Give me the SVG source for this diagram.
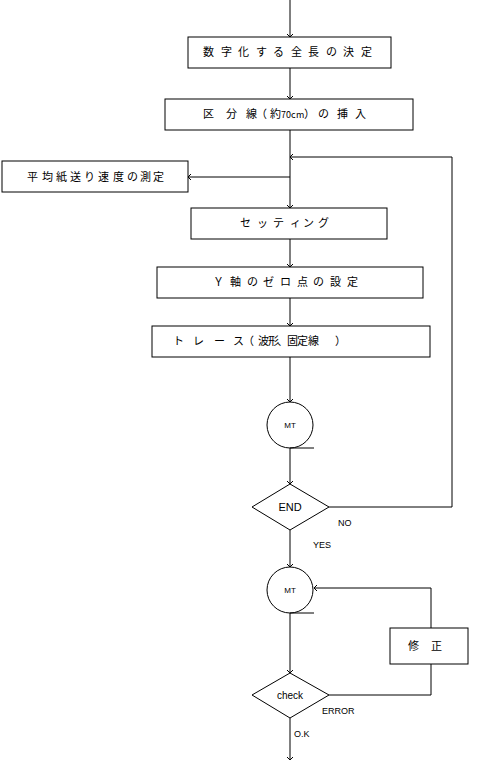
<svg xmlns="http://www.w3.org/2000/svg" width="488" height="765" viewBox="0 0 488 765">
<style>
.box{fill:#fff;stroke:#000;stroke-width:1}
.ln{fill:none;stroke:#000;stroke-width:1}
.jp{font-family:"Noto Sans CJK JP","Noto Sans",sans-serif;font-size:11px;fill:#000}
.en{font-family:"Liberation Sans",Arial,sans-serif;fill:#000}
</style>
<defs>
<marker id="ar" markerUnits="userSpaceOnUse" markerWidth="8" markerHeight="8" refX="4" refY="4" orient="auto" viewBox="0 0 8 8">
<path d="M1,1 L4,4 L1,7" fill="none" stroke="#000" stroke-width="1"/>
</marker>
</defs>
<rect width="488" height="765" fill="#fff"/>
<g id="connectors">
<path class="ln" d="M290,0 V37" marker-end="url(#ar)"/>
<path class="ln" d="M290,68 V99" marker-end="url(#ar)"/>
<path class="ln" d="M290,130 V208" marker-end="url(#ar)"/>
<path class="ln" d="M290,177 H188" marker-end="url(#ar)"/>
<path class="ln" d="M329,507 H452 V157 H290" marker-end="url(#ar)"/>
<path class="ln" d="M290,239 V267" marker-end="url(#ar)"/>
<path class="ln" d="M290,298 V326" marker-end="url(#ar)"/>
<path class="ln" d="M290,357 V402" marker-end="url(#ar)"/>
<path class="ln" d="M290,448 V484" marker-end="url(#ar)"/>
<path class="ln" d="M290,530 V567" marker-end="url(#ar)"/>
<path class="ln" d="M290,613 V673" marker-end="url(#ar)"/>
<path class="ln" d="M329,695 H431 V664"/>
<path class="ln" d="M431,628 V588 H314" marker-end="url(#ar)"/>
<path class="ln" d="M290,718 V760" marker-end="url(#ar)"/>
<text class="en" x="338" y="526" font-size="9">NO</text>
<text class="en" x="313" y="548" font-size="9">YES</text>
<text class="en" x="322" y="714" font-size="9">ERROR</text>
<text class="en" x="294" y="737" font-size="9">O.K</text>
</g>
<g id="n1">
<rect class="box" x="188" y="37" width="203" height="31"/>
<text class="jp" x="203 221 238 256 273 291 308 326 343 361" y="56">数字化する全長の決定</text>
</g>
<g id="n2">
<rect class="box" x="165" y="99" width="248" height="31"/>
<text class="jp" y="118"><tspan x="203 226 246 256 270">区分線（約</tspan><tspan font-size="9" x="281 286 291 296">70cm</tspan><tspan x="304 318 337 355">）の挿入</tspan></text>
</g>
<g id="n3">
<rect class="box" x="2" y="161" width="186" height="31"/>
<text class="jp" x="27 42 56 70 84 98 113 127 140 153" y="181">平均紙送り速度の測定</text>
</g>
<g id="n4">
<rect class="box" x="191" y="208" width="196" height="31"/>
<text class="jp" x="240 257 273 290 303 318" y="227">セッティング</text>
</g>
<g id="n5">
<rect class="box" x="157" y="267" width="266" height="31"/>
<text class="jp" x="213 230 247 263 280 297 313 330 347" y="286">Ｙ軸のゼロ点の設定</text>
</g>
<g id="n6">
<rect class="box" x="152" y="326" width="278" height="31"/>
<text class="jp" x="173 193 214 233 243 258 268 277 287 297 308 335" y="345">トレース（波形、固定線）</text>
</g>
<g id="n7">
<circle class="box" cx="290" cy="425" r="23"/>
<path class="ln" d="M290,448 H314"/>
<text class="en" x="290" y="428" font-size="8" text-anchor="middle">MT</text>
</g>
<g id="n8">
<polygon class="box" points="290,484 329,507 290,530 252,507"/>
<text class="en" x="290" y="511" font-size="11" text-anchor="middle">END</text>
</g>
<g id="n9">
<circle class="box" cx="290" cy="590" r="23"/>
<path class="ln" d="M290,613 H314"/>
<text class="en" x="290" y="593" font-size="8" text-anchor="middle">MT</text>
</g>
<g id="n10">
<rect class="box" x="390" y="628" width="78" height="36"/>
<text class="jp" x="408 431" y="650">修正</text>
</g>
<g id="n11">
<polygon class="box" points="290,673 329,695 290,718 252,695"/>
<text class="en" x="290" y="699" font-size="10" text-anchor="middle">check</text>
</g>
</svg>
